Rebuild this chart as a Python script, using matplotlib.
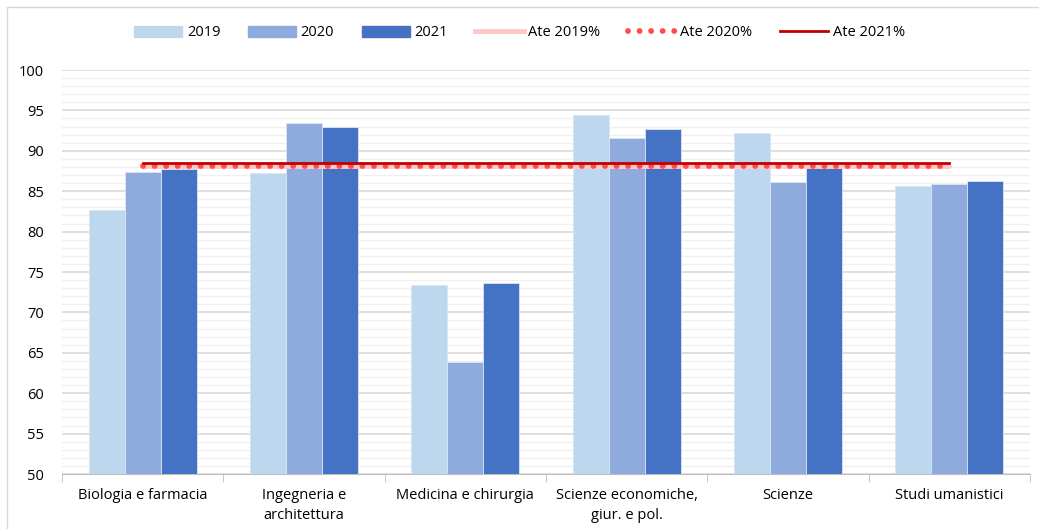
import numpy as np
import matplotlib
matplotlib.use('Agg')
import matplotlib.pyplot as plt
from matplotlib.patches import Rectangle
from matplotlib.lines import Line2D

# ── data ──────────────────────────────────────────────────────────────────────
categories = ['Biologia e farmacia', 'Ingegneria e\narchitettura',
              'Medicina e chirurgia', 'Scienze economiche,\ngiur. e pol.',
              'Scienze', 'Studi umanistici']
years      = ['2019', '2020', '2021']
vals_2019  = [82.7, 87.3, 73.4, 94.4, 92.2, 85.6]
vals_2020  = [87.4, 93.4, 63.9, 91.6, 86.1, 85.9]
vals_2021  = [87.7, 93.0, 73.6, 92.7, 88.0, 86.3]
ate_2019   = [88.1] * 6
ate_2020   = [88.1] * 6
ate_2021   = [88.5] * 6

# ── style ─────────────────────────────────────────────────────────────────────
BAR_COLORS = ['#bdd7ee', '#8faadc', '#4472c4']
DOTS = (0, (0.01, 1.97))
plt.rcParams['font.family'] = ['Open Sans', 'DejaVu Sans']

fig = plt.figure(figsize=(10.39, 5.29), dpi=100)
ax = fig.add_axes([62 / 1039, 1 - 474 / 529, 968 / 1039, 404 / 529])

x = np.arange(len(categories))
w = 0.223
for i, (vals, col) in enumerate(zip([vals_2019, vals_2020, vals_2021], BAR_COLORS)):
    ax.bar(x + (i - 1) * w, np.array(vals) - 50, bottom=50, width=w,
           color=col, edgecolor='#dbe6f4', linewidth=0.6, zorder=3,
           label=years[i])

ax.plot(x, ate_2019, color='#ffc7c7', lw=3.5, zorder=4, solid_capstyle='round')
# 2020 target drawn as a round-dotted line
ax.plot(x, ate_2020, color='#ff4d4d', lw=4.2, ls=DOTS,
        dash_capstyle='round', zorder=5)
ax.plot(x, ate_2021, color='#c00000', lw=2, zorder=6)

ax.set_xlim(-0.5, len(categories) - 0.5)
ax.set_ylim(50, 100)
ax.set_yticks(np.arange(50, 101, 5))
ax.set_yticks(np.arange(50, 101, 1), minor=True)
ax.grid(axis='y', which='major', color='#d9d9d9', lw=1.2, zorder=0)
ax.grid(axis='y', which='minor', color='#f0f0f0', lw=1.0, zorder=0)
ax.tick_params(axis='y', which='both', length=0, labelsize=10.5,
               colors='#000000', pad=13)

ax.set_xticks(x)
ax.set_xticklabels(categories, fontsize=10.5, linespacing=1.5)
ax.set_xticks(np.arange(-0.5, len(categories), 1), minor=True)
ax.tick_params(axis='x', which='major', length=0, pad=10)
ax.tick_params(axis='x', which='minor', length=6, color='#bfbfbf')
for s in ['top', 'right', 'left']:
    ax.spines[s].set_visible(False)
ax.spines['bottom'].set_color('#bfbfbf')

handles = [Rectangle((0, 0), 1, 1, color=c) for c in BAR_COLORS] + [
    Line2D([0], [0], color='#ffc7c7', lw=3.5),
    Line2D([0], [0], color='#ff4d4d', ls=DOTS, lw=4.2, dash_capstyle='round'),
    Line2D([0], [0], color='#c00000', lw=2),
]
labels = years + ['Ate 2019%', 'Ate 2020%', 'Ate 2021%']
fig.legend(handles, labels, loc='center', bbox_to_anchor=(0.5, 1 - 33 / 529),
           ncol=6, frameon=False, fontsize=10.5, handlelength=3.3,
           handleheight=0.7, columnspacing=1.9, handletextpad=0.3)

# chart border
fig.add_artist(Rectangle((7 / 1039, -0.1), 1.1, 1 - 7 / 529 + 0.1,
                         transform=fig.transFigure, fill=False,
                         edgecolor='#d9d9d9', lw=1))

fig.savefig('out.png', dpi=100, facecolor='white')
